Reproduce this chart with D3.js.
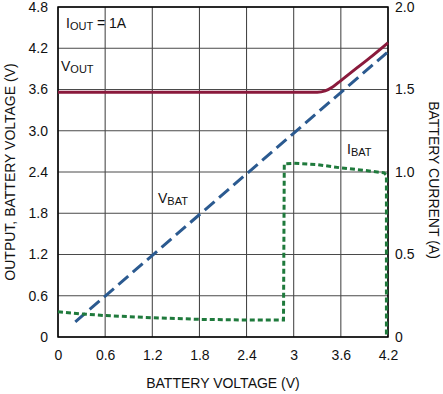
<!DOCTYPE html>
<html>
<head>
<meta charset="utf-8">
<script src="https://cdn.jsdelivr.net/npm/d3@7"></script>
<style>
  body { margin: 0; background: #fff; }
  svg { display: block; font-family: "Liberation Sans", Arial, sans-serif; }
  .axis text { font-size: 14px; fill: #111; }
  .axis path { display: none; }
</style>
</head>
<body>
<script>
// tick values + labels
var xTicks = [0, 0.6, 1.2, 1.8, 2.4, 3, 3.6, 4.2];
var xLabels = ["0", "0.6", "1.2", "1.8", "2.4", "3", "3.6", "4.2"];
var yTicks = [0, 0.6, 1.2, 1.8, 2.4, 3.0, 3.6, 4.2, 4.8];
var yLabels = ["0", "0.6", "1.2", "1.8", "2.4", "3.0", "3.6", "4.2", "4.8"];
var y2Ticks = [0, 0.5, 1.0, 1.5, 2.0];
var y2Labels = ["0", "0.5", "1.0", "1.5", "2.0"];

// VOUT (V) vs battery voltage
var voutX = [0, 3.3, 3.4, 3.5, 3.6, 3.8, 4.0, 4.2];
var voutY = [3.56, 3.56, 3.58, 3.64, 3.73, 3.91, 4.09, 4.28];

// VBAT (V)
var vbatX = [0.22, 4.2];
var vbatY = [0.22, 4.15];

// IBAT (A), right axis
var ibatX = [0, 0.3, 0.6, 1.2, 1.8, 2.4, 2.87, 2.88, 3.0, 3.3, 3.6, 3.9, 4.15, 4.18, 4.18];
var ibatY = [0.153, 0.14, 0.13, 0.117, 0.107, 0.103, 0.103, 1.05, 1.053, 1.045, 1.025, 1.01, 0.995, 0.98, 0];

var width = 443, height = 394;
var margin = {left: 58, right: 55, top: 7, bottom: 57};
var w = width - margin.left - margin.right;   // 330
var h = height - margin.top - margin.bottom;  // 330

var x = d3.scaleLinear().domain([0, 4.2]).range([0, w]);
var y = d3.scaleLinear().domain([0, 4.8]).range([h, 0]);
var y2 = d3.scaleLinear().domain([0, 2.0]).range([h, 0]);

var svg = d3.select("body").append("svg").attr("width", width).attr("height", height);
var g = svg.append("g").attr("transform", "translate(" + margin.left + "," + margin.top + ")");

// grid
g.selectAll(".vgrid").data(xTicks).enter().append("line")
  .attr("x1", function(d){ return x(d); }).attr("x2", function(d){ return x(d); })
  .attr("y1", 0).attr("y2", h)
  .attr("stroke", "#3a3a3a").attr("stroke-width", 1);
g.selectAll(".hgrid").data(yTicks).enter().append("line")
  .attr("x1", 0).attr("x2", w)
  .attr("y1", function(d){ return y(d); }).attr("y2", function(d){ return y(d); })
  .attr("stroke", "#4a4a4a").attr("stroke-width", 1);

// frame
g.append("rect").attr("width", w).attr("height", h)
  .attr("fill", "none").attr("stroke", "#000").attr("stroke-width", 1.5);

// axes
g.append("g").attr("class", "axis")
  .call(d3.axisLeft(y).tickValues(yTicks).tickSize(0).tickPadding(10)
    .tickFormat(function(d, i){ return yLabels[i]; }));
g.append("g").attr("class", "axis").attr("transform", "translate(" + w + ",0)")
  .call(d3.axisRight(y2).tickValues(y2Ticks).tickSize(0).tickPadding(7)
    .tickFormat(function(d, i){ return y2Labels[i]; }));
g.append("g").attr("class", "axis").attr("transform", "translate(0," + h + ")")
  .call(d3.axisBottom(x).tickValues(xTicks).tickSize(0).tickPadding(13)
    .tickFormat(function(d, i){ return xLabels[i]; }));

// series
var line = d3.line().x(function(d){ return x(d[0]); }).y(function(d){ return y(d[1]); });
var line2 = d3.line().x(function(d){ return x(d[0]); }).y(function(d){ return y2(d[1]); });

g.append("path").attr("d", line(d3.zip(vbatX, vbatY)))
  .attr("fill", "none").attr("stroke", "#2b5a90").attr("stroke-width", 3)
  .attr("stroke-dasharray", "13,6");

g.append("path").attr("d", line2(d3.zip(ibatX, ibatY)))
  .attr("fill", "none").attr("stroke", "#1f7a3c").attr("stroke-width", 3)
  .attr("stroke-dasharray", "5,3");

g.append("path").attr("d", line.curve(d3.curveMonotoneX)(d3.zip(voutX, voutY)))
  .attr("fill", "none").attr("stroke", "#8a1a3c").attr("stroke-width", 3);

// inline labels with subscripts
function subLabel(px, py, main, sub, tail) {
  var t = svg.append("text").attr("x", px).attr("y", py)
    .attr("font-size", 14).attr("fill", "#111");
  t.append("tspan").text(main);
  t.append("tspan").attr("font-size", 11).attr("dy", 2).text(sub);
  if (tail) t.append("tspan").attr("dy", -2).text(tail);
}
subLabel(66, 28, "I", "OUT", " = 1A");
subLabel(61, 71, "V", "OUT");
subLabel(158, 203, "V", "BAT");
subLabel(347, 154, "I", "BAT");

// axis titles
svg.append("text").attr("x", 223).attr("y", 388).attr("text-anchor", "middle")
  .attr("font-size", 14).attr("fill", "#111").text("BATTERY VOLTAGE (V)");
svg.append("text").attr("transform", "translate(15,172) rotate(-90)")
  .attr("text-anchor", "middle").attr("font-size", 14).attr("fill", "#111")
  .text("OUTPUT, BATTERY VOLTAGE (V)");
svg.append("text").attr("transform", "translate(429,180) rotate(90)")
  .attr("text-anchor", "middle").attr("font-size", 14).attr("fill", "#111")
  .text("BATTERY CURRENT (A)");
</script>
</body>
</html>
